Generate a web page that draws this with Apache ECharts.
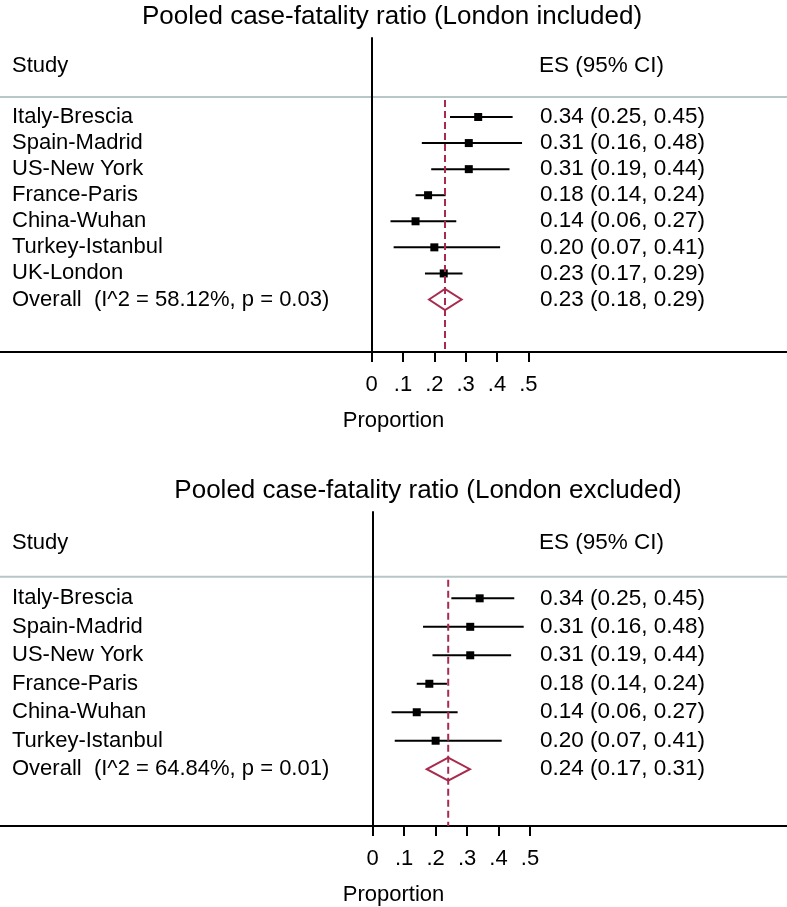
<!DOCTYPE html>
<html>
<head>
<meta charset="utf-8">
<script src="https://cdn.jsdelivr.net/npm/echarts@6/dist/echarts.min.js"></script>
<style>
html,body{margin:0;padding:0;background:#fff;}
#chart{width:787px;height:907px;}
</style>
</head>
<body>
<div id="chart"></div>
<script>
// ---------- DATA ----------
const titleTop = 'Pooled case-fatality ratio (London included)';
const titleBottom = 'Pooled case-fatality ratio (London excluded)';

const studiesTop = ['Italy-Brescia', 'Spain-Madrid', 'US-New York', 'France-Paris', 'China-Wuhan', 'Turkey-Istanbul', 'UK-London'];
const esTop = [0.34, 0.31, 0.31, 0.18, 0.14, 0.20, 0.23];
const loTop = [0.25, 0.16, 0.19, 0.14, 0.06, 0.07, 0.17];
const hiTop = [0.45, 0.48, 0.44, 0.236, 0.27, 0.41, 0.29];
const overallTop = [0.234, 0.183, 0.287];      // ES, low, high
const hetTop = ['58.12%', '0.03'];             // I^2, p

const studiesBottom = ['Italy-Brescia', 'Spain-Madrid', 'US-New York', 'France-Paris', 'China-Wuhan', 'Turkey-Istanbul'];
const esBottom = [0.34, 0.31, 0.31, 0.18, 0.14, 0.20];
const loBottom = [0.25, 0.16, 0.19, 0.14, 0.06, 0.07];
const hiBottom = [0.45, 0.48, 0.44, 0.236, 0.27, 0.41];
const overallBottom = [0.240, 0.172, 0.309];
const hetBottom = ['64.84%', '0.01'];

const tickValues = [0, 0.1, 0.2, 0.3, 0.4, 0.5];
const tickLabels = ['0', '.1', '.2', '.3', '.4', '.5'];
const axisTitle = 'Proportion';
const headStudy = 'Study';
const headES = 'ES (95% CI)';

// ---------- STYLE ----------
const FONT = '"Liberation Sans", Arial, Helvetica, sans-serif';
const RED = '#a82a4e';
const fmt = v => v.toFixed(2);

function textEl(x, y, txt, size, align) {
  return { type: 'text', x: x, y: y, silent: true,
    style: { text: txt, fill: '#000', fontSize: size, fontFamily: FONT,
             align: align || 'left', verticalAlign: 'middle' } };
}

function panelSeries(gi, names, es, lo, hi, overall, het, dh) {
  const nRows = names.length;
  const studyData = names.map((n, i) => [es[i], lo[i], hi[i], i]);
  const series = [];
  series.push({
    type: 'custom', xAxisIndex: gi, yAxisIndex: gi, z: 3,
    data: studyData,
    renderItem: function (params, api) {
      const row = api.value(3);
      const cs = params.coordSys;
      const pLo = api.coord([api.value(1), row]);
      const pHi = api.coord([api.value(2), row]);
      const pEs = api.coord([api.value(0), row]);
      const b = 8;
      const i = params.dataIndex;
      return { type: 'group', children: [
        { type: 'line', shape: { x1: pLo[0], y1: pLo[1], x2: pHi[0], y2: pHi[1] },
          style: { stroke: '#000', lineWidth: 2 } },
        { type: 'rect', shape: { x: pEs[0] - b / 2, y: pEs[1] - b / 2, width: b, height: b },
          style: { fill: '#000' } },
        textEl(cs.x + 12, pEs[1], names[i], 22),
        textEl(cs.x + 540, pEs[1], fmt(es[i]) + ' (' + fmt(lo[i]) + ', ' + fmt(hi[i]) + ')', 22.5)
      ] };
    }
  });
  // overall diamond + texts
  series.push({
    type: 'custom', xAxisIndex: gi, yAxisIndex: gi, z: 3,
    data: [[overall[0], overall[1], overall[2], nRows]],
    renderItem: function (params, api) {
      const row = api.value(3);
      const cs = params.coordSys;
      const pLo = api.coord([api.value(1), row]);
      const pHi = api.coord([api.value(2), row]);
      const pEs = api.coord([api.value(0), row]);
      const h = dh;
      return { type: 'group', children: [
        { type: 'polygon', shape: { points: [[pLo[0], pLo[1]], [pEs[0], pEs[1] - h], [pHi[0], pHi[1]], [pEs[0], pEs[1] + h]] },
          style: { fill: 'none', stroke: RED, lineWidth: 2 } },
        textEl(cs.x + 12, pEs[1], 'Overall  (I^2 = ' + het[0] + ', p = ' + het[1] + ')', 22),
        textEl(cs.x + 540, pEs[1], fmt(overall[0]) + ' (' + fmt(overall[1]) + ', ' + fmt(overall[2]) + ')', 22.5)
      ] };
    }
  });
  // dashed overall line
  series.push({
    type: 'custom', xAxisIndex: gi, yAxisIndex: gi, z: 5,
    data: [[overall[0], -0.65]],
    renderItem: function (params, api) {
      const cs = params.coordSys;
      const p = api.coord([api.value(0), api.value(1)]);
      return { type: 'line', shape: { x1: p[0], y1: p[1], x2: p[0], y2: cs.y + cs.height },
        style: { stroke: RED, lineWidth: 2, lineDash: [7, 4] } };
    }
  });
  return series;
}

function xAxisCfg(gi, min, max) {
  return {
    type: 'value', gridIndex: gi, min: min, max: max,
    axisLine: { onZero: false, lineStyle: { color: '#000', width: 2 } },
    axisTick: { show: true, customValues: tickValues, length: 10, lineStyle: { color: '#000', width: 2 } },
    axisLabel: { show: true, customValues: tickValues, margin: 22, color: '#000', fontSize: 22, fontFamily: FONT,
      formatter: v => { const k = tickValues.findIndex(t => Math.abs(t - v) < 1e-9); return k >= 0 ? tickLabels[k] : ''; } },
    splitLine: { show: false },
    name: axisTitle, nameLocation: 'middle', nameGap: 58,
    nameTextStyle: { color: '#000', fontSize: 22, fontFamily: FONT }
  };
}
function yAxisCfg(gi, min, max) {
  return {
    type: 'value', gridIndex: gi, inverse: true, min: min, max: max,
    axisLine: { show: true, onZero: true, lineStyle: { color: '#000', width: 2 } },
    axisTick: { show: false }, axisLabel: { show: false }, splitLine: { show: false }
  };
}

const chart = echarts.init(document.getElementById('chart'), null, { renderer: 'canvas' });
chart.setOption({
  animation: false,
  backgroundColor: '#fff',
  grid: [
    { left: 0, right: 0, top: 38, height: 314 },
    { left: 0, right: 0, top: 512, height: 315 }
  ],
  xAxis: [xAxisCfg(0, -1.1868, 1.3260), xAxisCfg(1, -1.1847, 1.3169)],
  yAxis: [yAxisCfg(0, -3.030, 9.014), yAxisCfg(1, -3.031, 7.994)],
  graphic: [
    textEl(392, 17, titleTop, 26, 'center'),
    textEl(428, 491, titleBottom, 26, 'center'),
    textEl(12, 66, headStudy, 22),
    textEl(539, 66, headES, 22.5),
    textEl(12, 543, headStudy, 22),
    textEl(539, 543, headES, 22.5),
    { type: 'line', shape: { x1: 0, y1: 97, x2: 787, y2: 97 }, style: { stroke: '#b7c7c6', lineWidth: 2 }, z: -1 },
    { type: 'line', shape: { x1: 0, y1: 576.7, x2: 787, y2: 576.7 }, style: { stroke: '#b7c7c6', lineWidth: 2 }, z: -1 }
  ],
  series: [].concat(
    panelSeries(0, studiesTop, esTop, loTop, hiTop, overallTop, hetTop, 10.5),
    panelSeries(1, studiesBottom, esBottom, loBottom, hiBottom, overallBottom, hetBottom, 11.5)
  )
});
</script>
</body>
</html>
